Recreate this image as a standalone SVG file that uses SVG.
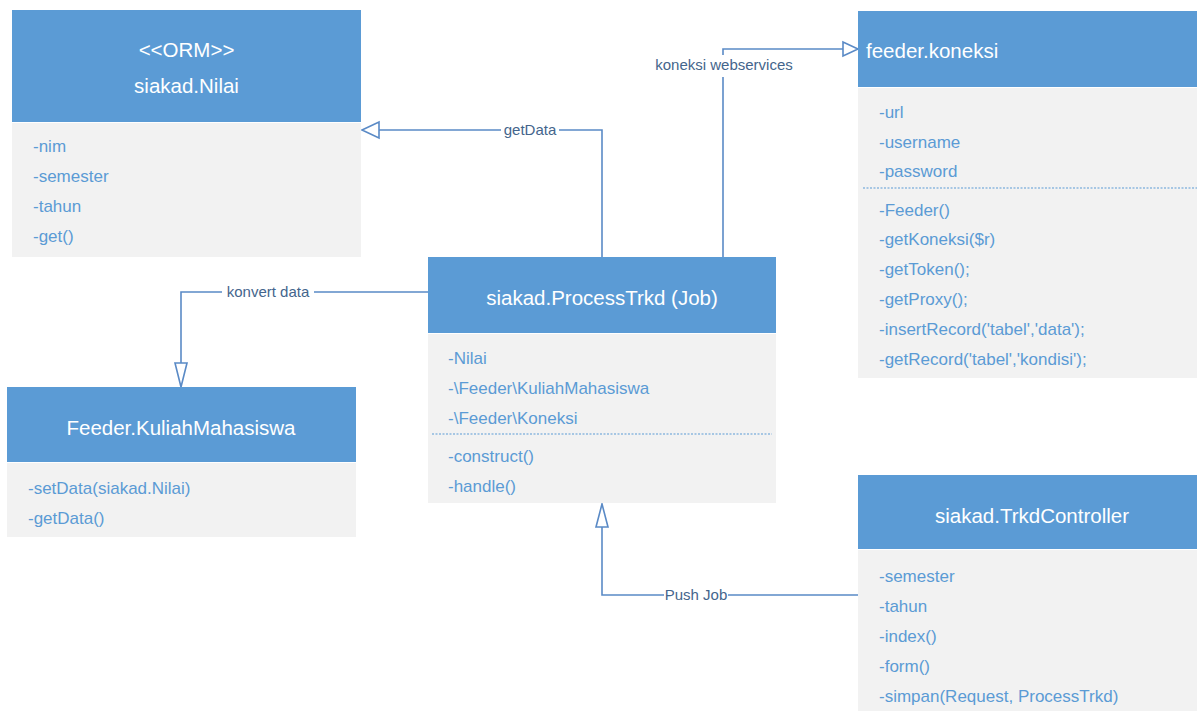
<svg xmlns="http://www.w3.org/2000/svg" width="1197" height="711" viewBox="0 0 1197 711">
<style>
.hd{fill:#5B9BD5}
.bd{fill:#F2F2F2}
.ht{fill:#FFFFFF;font-family:"Liberation Sans",Arial,sans-serif;font-size:20.5px}
.bt{fill:#5B9BD5;font-family:"Liberation Sans",Arial,sans-serif;font-size:17px}
.dot{stroke:#5B9BD5;stroke-width:1;stroke-dasharray:2 1.5;fill:none}
.cn{stroke:#5A8AC6;stroke-width:1.6;fill:none}
.ah{stroke:#5A8AC6;stroke-width:1.6;fill:#FFFFFF}
.lb{fill:#44658C;font-family:"Liberation Sans",Arial,sans-serif;font-size:15px;text-anchor:middle}
.lbg{fill:#FFFFFF}
</style>
<rect width="1197" height="711" fill="#FFFFFF"/>

<g id="connectors">
  <!-- getData -->
  <path class="cn" d="M602 257 V130 H379"/>
  <polygon class="ah" points="362,130 379,122 379,138"/>
  <rect class="lbg" x="501" y="121" width="58" height="18"/>
  <text class="lb" x="530" y="135">getData</text>
  <!-- koneksi webservices -->
  <path class="cn" d="M723 257 V49 H843"/>
  <polygon class="ah" points="858,49 843,42 843,56"/>
  <rect class="lbg" x="650" y="55" width="148" height="22"/>
  <text class="lb" x="724" y="70">koneksi webservices</text>
  <!-- konvert data -->
  <path class="cn" d="M428 292 H181 V363"/>
  <polygon class="ah" points="181,387 175,363 187,363"/>
  <rect class="lbg" x="222" y="283" width="92" height="18"/>
  <text class="lb" x="268" y="297">konvert data</text>
  <!-- Push Job -->
  <path class="cn" d="M858 595 H602 V527"/>
  <polygon class="ah" points="602,504 596,527 608,527"/>
  <rect class="lbg" x="664" y="586" width="64" height="18"/>
  <text class="lb" x="696" y="600">Push Job</text>
</g>

<g id="node-nilai">
  <rect class="hd" x="12" y="10" width="349" height="112"/>
  <rect class="bd" x="12" y="123" width="349" height="134"/>
  <text class="ht" x="186.5" y="57" text-anchor="middle">&lt;&lt;ORM&gt;&gt;</text>
  <text class="ht" x="186.5" y="93" text-anchor="middle">siakad.Nilai</text>
  <text class="bt" x="33" y="152">-nim</text>
  <text class="bt" x="33" y="182">-semester</text>
  <text class="bt" x="33" y="212">-tahun</text>
  <text class="bt" x="33" y="242">-get()</text>
</g>

<g id="node-koneksi">
  <rect class="hd" x="858" y="11" width="339" height="76"/>
  <rect class="bd" x="858" y="88" width="339" height="290"/>
  <text class="ht" x="866" y="58">feeder.koneksi</text>
  <text class="bt" x="879" y="118">-url</text>
  <text class="bt" x="879" y="148">-username</text>
  <text class="bt" x="879" y="177">-password</text>
  <line class="dot" x1="863" y1="188" x2="1197" y2="188"/>
  <text class="bt" x="879" y="216">-Feeder()</text>
  <text class="bt" x="879" y="245">-getKoneksi($r)</text>
  <text class="bt" x="879" y="275">-getToken();</text>
  <text class="bt" x="879" y="305">-getProxy();</text>
  <text class="bt" x="879" y="335">-insertRecord('tabel','data');</text>
  <text class="bt" x="879" y="365">-getRecord('tabel','kondisi');</text>
</g>

<g id="node-process">
  <rect class="hd" x="428" y="257" width="348" height="76"/>
  <rect class="bd" x="428" y="334" width="348" height="169"/>
  <text class="ht" x="602" y="305" text-anchor="middle">siakad.ProcessTrkd (Job)</text>
  <text class="bt" x="448" y="364">-Nilai</text>
  <text class="bt" x="448" y="394">-\Feeder\KuliahMahasiswa</text>
  <text class="bt" x="448" y="424">-\Feeder\Koneksi</text>
  <line class="dot" x1="432" y1="434" x2="772" y2="434"/>
  <text class="bt" x="448" y="462">-construct()</text>
  <text class="bt" x="448" y="492">-handle()</text>
</g>

<g id="node-kuliah">
  <rect class="hd" x="7" y="387" width="349" height="75"/>
  <rect class="bd" x="7" y="463" width="349" height="74"/>
  <text class="ht" x="181" y="435" text-anchor="middle">Feeder.KuliahMahasiswa</text>
  <text class="bt" x="28" y="494">-setData(siakad.Nilai)</text>
  <text class="bt" x="28" y="524">-getData()</text>
</g>

<g id="node-controller">
  <rect class="hd" x="858" y="475" width="339" height="74"/>
  <rect class="bd" x="858" y="550" width="339" height="161"/>
  <text class="ht" x="1032" y="523" text-anchor="middle">siakad.TrkdController</text>
  <text class="bt" x="879" y="582">-semester</text>
  <text class="bt" x="879" y="612">-tahun</text>
  <text class="bt" x="879" y="642">-index()</text>
  <text class="bt" x="879" y="672">-form()</text>
  <text class="bt" x="879" y="702">-simpan(Request, ProcessTrkd)</text>
</g>
</svg>
